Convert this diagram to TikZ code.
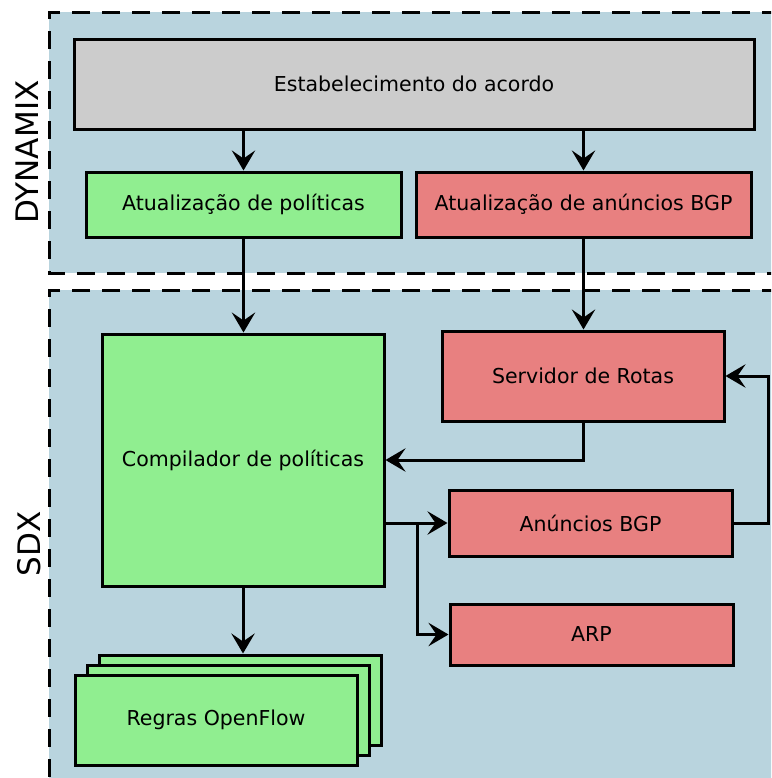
\documentclass[tikz,border=0pt]{standalone}
\usepackage{fontspec}
\setmainfont{DejaVu Sans}
\usetikzlibrary{arrows.meta}
\definecolor{regionbg}{RGB}{185,212,222}
\definecolor{boxgray}{RGB}{204,204,204}
\definecolor{boxgreen}{RGB}{144,238,144}
\definecolor{boxred}{RGB}{232,128,128}
\tikzset{
  box/.style={draw=black, line width=2.25pt, inner sep=0pt, font=\fontsize{15.4}{18}\selectfont},
  graybox/.style={box, fill=boxgray},
  greenbox/.style={box, fill=boxgreen},
  redbox/.style={box, fill=boxred},
  arr/.style={draw=black, line width=2.25pt, arrows={-Stealth[length=15pt,width=17.5pt,inset=6pt]}},
  regionline/.style={draw=black, line width=2.25pt, dash pattern=on 13.5pt off 9pt},
  regionlabel/.style={rotate=90, font=\fontsize{23.3}{27}\selectfont}
}
\begin{document}
\begin{tikzpicture}[x=0.75pt, y=-0.75pt]
\useasboundingbox (0,0) rectangle (771,778);
\clip (0,0) rectangle (771,778);

% the two regions
\fill[regionbg] (49,12) rectangle (780,273);
\draw[regionline] (780,12) -- (49,12) -- (49,273) -- (780,273);
\fill[regionbg] (49,290) rectangle (780,790);
\draw[regionline] (780,290) -- (49,290) -- (49,790);
\node[regionlabel] (lbldyn) at (27,152) {DYNAMIX};
\node[regionlabel] (lblsdx) at (29,544) {SDX};

% DYNAMIX boxes
\node[graybox, minimum width=510pt, minimum height=67.5pt] (acordo) at (414,84) {Estabelecimento do acordo};
\node[greenbox, minimum width=236.25pt, minimum height=48.75pt] (polit) at (243.5,204.5) {Atualização de políticas};
\node[redbox, minimum width=251.25pt, minimum height=48.75pt] (anunc) at (583.5,204.5) {Atualização de anúncios BGP};

% SDX boxes
\node[greenbox, minimum width=211.5pt, minimum height=189pt] (comp) at (243,460) {Compilador de políticas};
\node[redbox, minimum width=211.5pt, minimum height=67.5pt] (serv) at (583,376) {Servidor de Rotas};
\node[redbox, minimum width=212.25pt, minimum height=49.5pt] (bgp) at (590.5,523) {Anúncios BGP};
\node[redbox, minimum width=212.25pt, minimum height=45.75pt] (arp) at (591.5,634.5) {ARP};

% stacked rule sets
\node[greenbox, minimum width=211.5pt, minimum height=67.5pt] (rulesback) at (240,700) {};
\node[greenbox, minimum width=211.5pt, minimum height=67.5pt] (rulesmid) at (228,710) {};
\node[greenbox, minimum width=211.5pt, minimum height=67.5pt] (rules) at (216,720) {Regras OpenFlow};

% connectors
\draw[arr] (polit.north |- acordo.south) -- (polit.north);
\draw[arr] (anunc.north |- acordo.south) -- (anunc.north);
\draw[arr] (polit.south) -- (polit.south |- comp.north);
\draw[arr] (anunc.south) -- (anunc.south |- serv.north);
\draw[arr] (serv.south) |- (comp.east);
\coordinate (loop) at (768,523);
\draw[arr] (bgp.east) -- (loop) |- (serv.east);
\draw[arr] (comp.east |- bgp.west) -- (bgp.west);
\coordinate (split) at (417,523);
\draw[arr] (split) |- (arp.west);
\draw[arr] (comp.south) -- (comp.south |- rulesback.north);
\end{tikzpicture}
\end{document}
